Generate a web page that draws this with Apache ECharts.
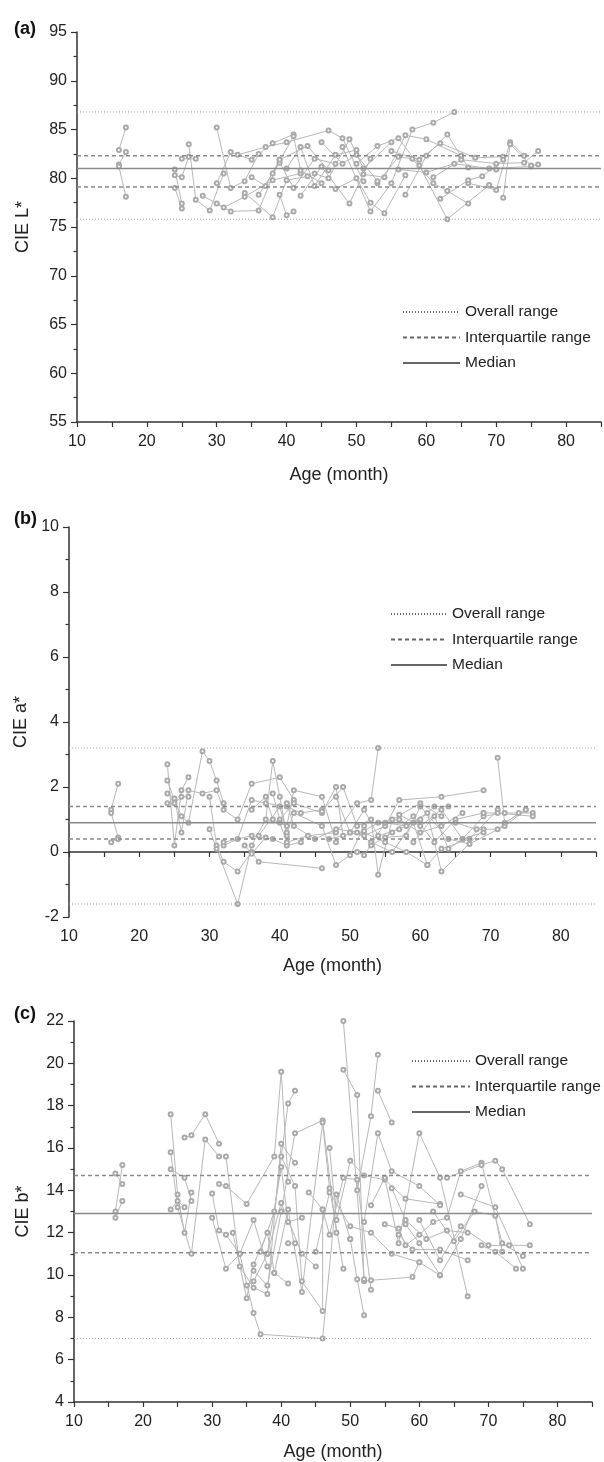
<!DOCTYPE html>
<html lang="en">
<head>
<meta charset="UTF-8">
<title>CIE colour by age</title>
<script src="https://cdn.jsdelivr.net/npm/echarts/dist/echarts.min.js"></script>
<style>
  html, body { margin: 0; padding: 0; background: #fff; }
  #main { width: 604px; height: 1462px; }
</style>
</head>
<body>
<div id="main"></div>
<script>
// each track = one child, [age (month), value]
const tracksL = [
  [[16,82.9],[17,85.2]],
  [[16,81.4],[17,82.7]],
  [[16,81.2],[17,78.1]],
  [[24,80.9],[25,77.4]],
  [[24,80.3],[25,80.1],[26,82.2]],
  [[24,79.0],[25,76.9]],
  [[26,83.5],[27,77.8],[29,76.7],[31,80.5]],
  [[25,82.0],[27,82.0]],
  [[30,85.2],[32,79.0],[34,79.7],[36,82.5]],
  [[30,79.5],[32,82.7],[35,81.9],[38,83.6],[41,84.5]],
  [[30,77.4],[32,76.6],[36,76.7],[39,81.9]],
  [[28,78.2],[31,77.0],[34,78.1],[38,79.8],[42,80.5]],
  [[33,82.4],[37,83.2],[40,83.7],[46,84.9],[48,84.1],[51,79.7]],
  [[34,78.5],[38,76.0],[40,79.8],[43,80.2]],
  [[36,78.3],[39,81.6],[41,79.0],[44,82.0],[47,81.5]],
  [[39,78.3],[40,76.2],[41,76.6]],
  [[38,80.5],[41,84.3],[42,80.8],[45,79.5]],
  [[40,81.0],[42,83.2],[44,79.2],[47,82.4],[50,82.9]],
  [[42,78.2],[45,81.2],[49,77.4],[52,82.0]],
  [[44,80.5],[46,80.0],[49,84.0],[51,81.0],[55,83.7]],
  [[47,78.9],[50,80.0],[52,77.5],[54,76.4],[57,80.3]],
  [[48,83.2],[52,76.6],[55,79.5],[58,85.0],[61,85.7],[64,86.8]],
  [[50,81.5],[53,83.3],[56,84.1],[59,81.3],[63,75.8],[69,79.3]],
  [[51,80.4],[54,80.1],[57,84.4],[60,84.0],[65,82.3]],
  [[53,79.5],[56,82.2],[58,82.0],[61,79.5],[63,78.7],[66,77.4]],
  [[55,82.8],[59,81.9],[62,83.6],[67,82.1],[71,82.2]],
  [[56,80.9],[60,80.6],[64,81.5],[69,81.0],[75,81.2]],
  [[57,78.3],[60,82.3],[63,84.5],[66,81.1],[70,80.9]],
  [[61,80.1],[65,81.9],[70,81.5],[74,81.6],[76,82.8]],
  [[66,79.5],[70,78.8],[72,83.7],[74,82.3]],
  [[71,78.0],[72,83.5],[75,81.3],[76,81.4]],
  [[62,77.9],[66,79.8],[68,80.2],[71,81.9]],
  [[45,83.7],[48,81.5],[50,82.4],[53,79.7]],
  [[35,80.1],[37,79.2],[39,81.9],[43,83.3],[46,80.8]]
];
const overallL = [75.8, 86.8];
const iqrL = [79.1, 82.3];
const medianL = 81.0;

const tracksA = [
  [[16,1.3],[17,2.1]],
  [[16,1.2],[17,0.45]],
  [[16,0.3],[17,0.4]],
  [[24,2.7],[25,0.2],[26,1.9],[27,2.3]],
  [[24,2.2],[25,1.6],[26,1.1],[27,0.9],[29,3.1],[30,2.8],[31,2.2],[32,1.5]],
  [[24,1.8],[25,1.65],[26,0.6],[27,1.9],[29,1.8],[31,1.9],[32,1.3],[34,1.0],[36,2.1],[40,2.3],[42,1.6]],
  [[24,1.5],[25,1.5],[26,1.7],[27,1.7]],
  [[30,1.7],[31,0.2],[32,-0.3],[34,-0.6],[36,0.0],[37,-0.3],[46,-0.5]],
  [[30,0.7],[31,0.1],[34,-1.6],[36,0.2],[38,1.0],[39,2.8],[40,1.7],[41,0.5]],
  [[32,0.2],[34,0.4],[36,1.6],[38,1.5],[41,1.4],[43,1.2],[46,1.3]],
  [[32,0.3],[36,0.5],[39,0.4],[41,0.2],[43,0.3]],
  [[35,0.2],[36,-0.05],[38,0.45]],
  [[36,1.3],[38,1.7],[39,1.0],[41,0.8],[42,1.9],[46,1.7],[48,0.3]],
  [[37,0.5],[40,1.4],[41,0.6],[42,1.2],[46,0.8],[48,-0.4],[50,-0.1],[52,0.8]],
  [[39,1.8],[40,1.0],[42,1.5],[46,1.2],[48,2.0],[49,0.5]],
  [[40,0.9],[41,0.3],[44,0.5],[48,0.6],[51,1.5],[53,1.6],[54,3.2]],
  [[41,1.5],[42,0.8],[45,0.4],[48,0.7],[52,0.6],[55,0.3],[58,0.0],[61,-0.4]],
  [[46,1.25],[49,2.0],[51,0.8],[53,1.0],[54,-0.7],[56,1.0],[60,1.5],[63,1.1]],
  [[48,1.7],[50,0.6],[52,0.5],[55,0.8],[57,1.6],[63,1.7],[69,1.9]],
  [[47,0.4],[51,0.6],[53,0.3],[56,0.0],[59,0.9],[61,-0.4],[63,0.1],[67,0.4],[71,1.3]],
  [[50,0.6],[52,1.3],[54,0.5],[57,0.7],[60,1.0],[62,1.4],[64,1.4]],
  [[51,0.0],[52,-0.1],[55,0.9],[58,0.8],[61,1.2],[63,-0.6],[69,0.7]],
  [[52,0.65],[54,0.9],[57,1.0],[60,0.6],[63,0.8],[66,1.2]],
  [[53,0.2],[56,0.6],[59,1.1],[62,0.3],[65,1.0],[69,1.2]],
  [[55,0.45],[58,0.5],[60,1.4],[64,0.4],[67,0.25],[72,0.8],[75,1.3]],
  [[57,1.15],[60,0.8],[63,1.3],[66,0.4],[69,1.1],[72,1.2],[76,1.2]],
  [[59,0.3],[62,1.1],[64,0.1],[66,0.4],[69,0.6]],
  [[71,2.9],[72,0.9],[75,1.3]],
  [[69,1.2],[71,1.2],[76,1.1]],
  [[65,0.9],[68,0.7],[71,0.7],[74,1.2]]
];
const overallA = [-1.6, 3.2];
const iqrA = [0.4, 1.4];
const medianA = 0.9;

const tracksB = [
  [[16,14.8],[17,14.3]],
  [[16,13.0],[17,15.2]],
  [[16,12.7],[17,13.5]],
  [[24,17.6],[25,13.8],[26,12.0],[27,13.9]],
  [[24,15.8],[25,13.2],[27,11.0],[29,16.4],[31,15.6]],
  [[24,15.0],[26,14.6],[27,13.5]],
  [[24,13.1],[25,13.5],[26,13.2]],
  [[26,16.5],[27,16.6],[29,17.6],[31,16.2]],
  [[30,13.85],[31,12.1],[32,11.9],[34,11.0],[36,12.6],[38,10.4]],
  [[30,12.7],[32,10.3],[34,11.0],[36,8.2],[37,7.2],[46,7.0],[48,13.8],[50,11.7]],
  [[31,14.3],[32,14.2],[35,13.35],[39,15.6],[40,19.6],[41,14.4]],
  [[32,15.6],[34,10.4],[36,9.4],[38,9.1],[40,16.2],[42,15.3]],
  [[33,12.0],[35,8.9],[36,10.5],[38,12.0],[39,10.1],[41,9.6]],
  [[35,9.5],[36,9.7],[38,11.0],[40,13.4],[43,11.0],[45,10.4]],
  [[36,10.2],[38,9.5],[40,13.0],[42,16.7],[46,17.3],[48,12.0]],
  [[37,11.1],[39,13.0],[41,18.1],[42,18.7]],
  [[38,11.0],[40,15.1],[41,12.5],[43,12.7]],
  [[39,10.1],[41,13.1],[43,9.2],[46,17.2],[47,14.1],[49,10.3]],
  [[40,15.6],[42,14.2],[43,9.7],[46,8.3],[46,13.1]],
  [[41,11.5],[42,11.5]],
  [[44,13.9],[46,13.1],[47,11.9],[49,14.6],[51,14.5],[53,9.3]],
  [[47,16.0],[48,12.6],[50,15.4],[52,14.7],[55,14.5],[58,13.6],[63,13.35]],
  [[49,19.7],[51,18.5],[52,9.7],[53,9.75],[59,9.9],[60,10.6],[63,9.98]],
  [[49,22.0],[52,9.8]],
  [[50,11.7],[51,9.8],[52,8.1]],
  [[52,12.5],[54,16.7],[56,14.9],[60,14.2],[63,13.3]],
  [[51,14.0],[53,17.5],[54,20.4]],
  [[54,18.7],[56,17.2]],
  [[53,13.3],[55,14.6],[57,11.5],[60,16.7],[63,14.6],[67,9.0]],
  [[55,12.4],[57,12.2],[58,11.4],[60,11.9],[62,12.5],[64,12.7],[66,14.9],[69,15.3],[72,11.5],[75,10.9]],
  [[56,14.1],[58,12.6],[61,11.7],[64,12.1],[67,12.0]],
  [[57,11.9],[59,11.2],[63,11.2],[67,10.7]],
  [[58,12.4],[60,11.5],[63,10.0],[66,11.7],[69,14.2]],
  [[60,12.6],[63,10.7],[66,12.3],[70,11.4],[73,11.4],[76,11.4]],
  [[62,13.0],[65,11.6],[68,13.0],[71,12.8],[72,11.1]],
  [[69,11.4],[71,11.1],[74,10.3]],
  [[64,14.6],[69,15.2],[71,15.4],[72,15.0],[76,12.4]],
  [[66,13.8],[71,13.2],[75,10.3]],
  [[45,11.1],[47,13.9],[50,12.3],[53,12.0],[56,11.0],[60,10.6]]
];
const overallB = [7.0, 22.1];
const iqrB = [11.05, 14.7];
const medianB = 12.9;

const ageRange = [10, 85];
const legendNames = ['Overall range', 'Interquartile range', 'Median'];
const panelTags = ['(a)', '(b)', '(c)'];
const yNames = ['CIE L*', 'CIE a*', 'CIE b*'];
const yRanges = [[55, 95, 5], [-2, 10, 2], [4, 22, 2]];

const FONT = '"Liberation Sans", Arial, sans-serif';

const panels = [
  { tracks: tracksL, overall: overallL, iqr: iqrL, median: medianL,
    grid: { left: 77, top: 32, width: 525, height: 390 },
    legend: { left: 397, top: 299, itemWidth: 57 }, tagTop: 15, xGap: 44, yGap: 45 },
  { tracks: tracksA, overall: overallA, iqr: iqrA, median: medianA,
    grid: { left: 69, top: 527, width: 527, height: 390 },
    legend: { left: 385, top: 601, itemWidth: 56 }, tagTop: 505, xGap: 40, yGap: 37 },
  { tracks: tracksB, overall: overallB, iqr: iqrB, median: medianB,
    grid: { left: 74, top: 1021, width: 518, height: 383 },
    legend: { left: 406, top: 1048, itemWidth: 58 }, tagTop: 1000, xGap: 41, yGap: 42 }
];

const chart = echarts.init(document.getElementById('main'), null, { renderer: 'canvas' });

const grids = [], xAxes = [], yAxes = [], legends = [], titles = [], series = [];

panels.forEach(function (p, i) {
  grids.push(Object.assign({ containLabel: false }, p.grid));

  xAxes.push({
    type: 'value', gridIndex: i, min: ageRange[0], max: ageRange[1], interval: 5,
    name: 'Age (month)', nameLocation: 'middle', nameGap: p.xGap,
    nameTextStyle: { fontFamily: FONT, fontSize: 18, color: '#222' },
    axisLine: { lineStyle: { color: '#333', width: 1.5 } },
    axisTick: { length: 5, lineStyle: { color: '#333', width: 1.2 } },
    axisLabel: { fontFamily: FONT, fontSize: 16, color: '#222', margin: 12,
      formatter: function (v) { return (v % 10 === 0 && v < 85) ? String(v) : ''; } },
    splitLine: { show: false }
  });

  const yr = yRanges[i];
  yAxes.push({
    type: 'value', gridIndex: i, min: yr[0], max: yr[1], interval: yr[2],
    name: yNames[i], nameLocation: 'middle', nameGap: p.yGap,
    nameTextStyle: { fontFamily: FONT, fontSize: 18, color: '#222' },
    axisLine: { show: true, lineStyle: { color: '#333', width: 1.5 } },
    axisTick: { show: true, length: 6, lineStyle: { color: '#333', width: 1.2 } },
    minorTick: { show: true, splitNumber: 2, length: 3.5, lineStyle: { color: '#333', width: 1.2 } },
    axisLabel: { fontFamily: FONT, fontSize: 16, color: '#222', margin: 10 },
    splitLine: { show: false }
  });

  legends.push({
    data: legendNames, orient: 'vertical', left: p.legend.left, top: p.legend.top,
    itemWidth: p.legend.itemWidth, itemHeight: 14, itemGap: 9.5, selectedMode: false,
    itemStyle: { opacity: 0 },
    lineStyle: { color: '#666' },
    textStyle: { fontFamily: FONT, fontSize: 15.5, color: '#222' }
  });

  titles.push({
    text: panelTags[i], left: 9, top: p.tagTop,
    textStyle: { fontFamily: FONT, fontSize: 18, fontWeight: 'bold', color: '#111' }
  });

  p.tracks.forEach(function (t) {
    series.push({
      type: 'line', xAxisIndex: i, yAxisIndex: i, data: t,
      symbol: 'emptyCircle', symbolSize: 4, showSymbol: true,
      lineStyle: { color: '#b8b8b8', width: 1 },
      itemStyle: { color: '#aaaaaa', borderWidth: 1 },
      silent: true, animation: false, z: 2
    });
  });

  const refStyle = {
    'Overall range': { color: '#a0a0a0', width: 1, type: [1, 2] },
    'Interquartile range': { color: '#8a8a8a', width: 1.5, type: [4, 3] },
    'Median': { color: '#8a8a8a', width: 1.5, type: 'solid' }
  };
  const refs = [
    ['Overall range', p.overall[0]], ['Overall range', p.overall[1]],
    ['Interquartile range', p.iqr[0]], ['Interquartile range', p.iqr[1]],
    ['Median', p.median]
  ];
  refs.forEach(function (r) {
    series.push({
      type: 'line', name: r[0], xAxisIndex: i, yAxisIndex: i,
      data: [[ageRange[0], r[1]], [ageRange[1], r[1]]],
      symbol: 'none', lineStyle: refStyle[r[0]], itemStyle: { color: refStyle[r[0]].color },
      silent: true, animation: false, z: 3
    });
  });
});

chart.setOption({
  backgroundColor: '#fff',
  animation: false,
  title: titles,
  grid: grids,
  xAxis: xAxes,
  yAxis: yAxes,
  legend: legends,
  series: series
});
</script>
</body>
</html>
